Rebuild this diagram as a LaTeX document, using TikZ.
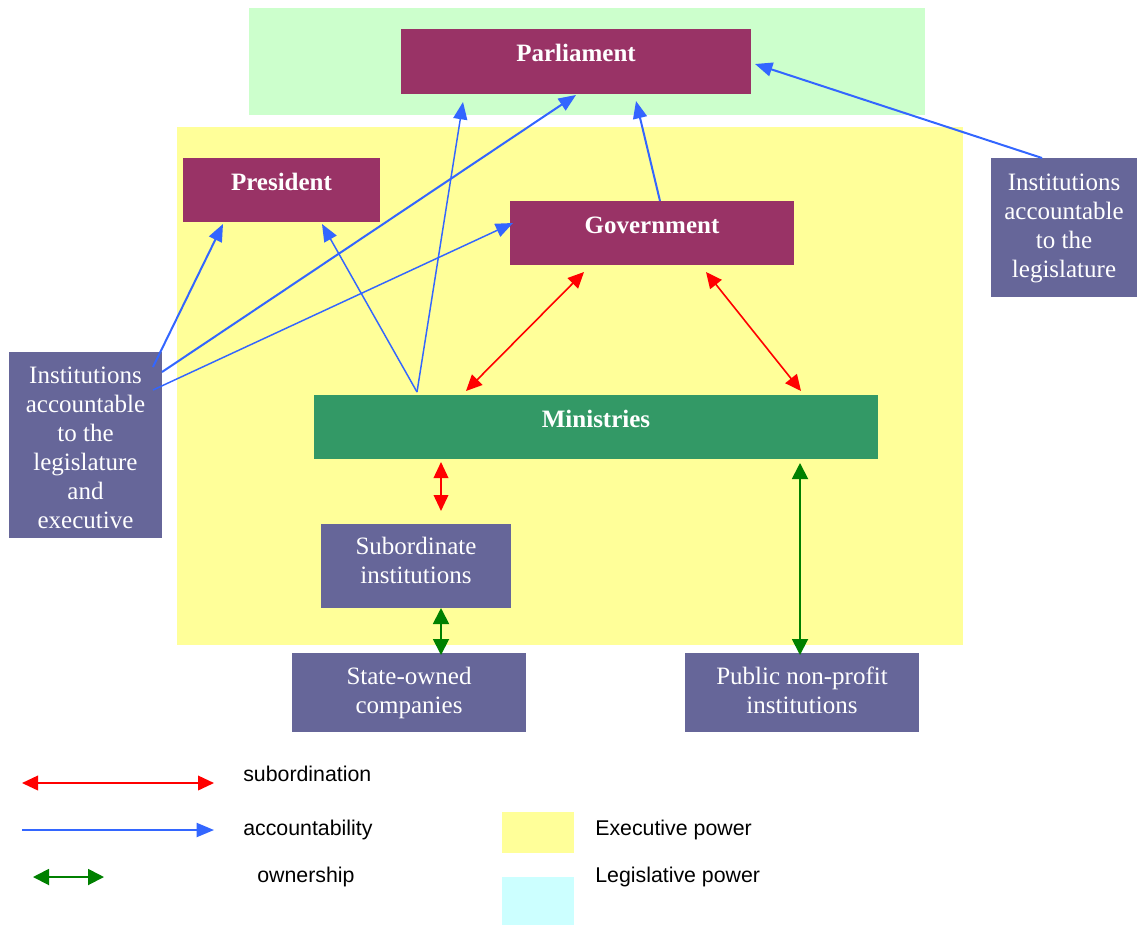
\documentclass[tikz,border=0pt]{standalone}
\usepackage{fontspec}
\setmainfont{Liberation Serif}
\newfontfamily\legfont{Liberation Sans}
\usetikzlibrary{arrows.meta,calc}
\definecolor{maroon}{HTML}{993366}
\definecolor{mingreen}{HTML}{339966}
\definecolor{instpurple}{HTML}{666699}
\definecolor{execyellow}{HTML}{FFFF99}
\definecolor{legisgreen}{HTML}{CCFFCC}
\definecolor{legcyan}{HTML}{CCFFFF}
\definecolor{accblue}{HTML}{3366FF}
\definecolor{owngreen}{HTML}{008000}
\begin{document}
\begin{tikzpicture}[x=0.75pt,y=-0.75pt,
  box/.style={anchor=north west, inner sep=0pt, outer sep=0pt, draw=none},
  btxt/.style={text=white, font=\fontsize{18.75pt}{21.75pt}\selectfont, align=center, anchor=base, inner sep=0pt},
  bbold/.style={btxt, font=\fontsize{18.75pt}{21.75pt}\selectfont\bfseries},
  legtxt/.style={font=\legfont\fontsize{16pt}{19pt}\selectfont, anchor=base west, inner sep=0pt},
  acc/.style={draw=accblue, line width=1.5pt, -{Triangle[length=13pt,width=10.5pt]}},
  accthin/.style={acc, line width=1.1pt},
  subo/.style={draw=red, line width=1.2pt, {Triangle[length=12pt,width=11pt]}-{Triangle[length=12pt,width=11pt]}},
  own/.style={draw=owngreen, line width=1.4pt, {Triangle[length=12pt,width=12pt]}-{Triangle[length=12pt,width=12pt]}}
]
\useasboundingbox (0,0) rectangle (1137,925);
% backgrounds
\node[box, fill=legisgreen, minimum width=507pt, minimum height=80.25pt] (legbg) at (249,8) {};
\node[box, fill=execyellow, minimum width=589.5pt, minimum height=388.5pt] (execbg) at (177,127) {};
% boxes
\node[box, fill=maroon, minimum width=262.5pt, minimum height=48.75pt] (parl) at (401,29) {};
\node[bbold] (parlt) at (576,61) {Parliament};
\node[box, fill=maroon, minimum width=147.75pt, minimum height=48pt] (pres) at (183,158) {};
\node[bbold] (prest) at (281.5,190) {President};
\node[box, fill=maroon, minimum width=213pt, minimum height=48pt] (gov) at (510,201) {};
\node[bbold] (govt) at (652,233) {Government};
\node[box, fill=mingreen, minimum width=423pt, minimum height=48pt] (min) at (314,395) {};
\node[bbold] (mint) at (596,427) {Ministries};
\node[box, fill=instpurple, minimum width=114.75pt, minimum height=139.5pt] (linst) at (9,352) {};
\node[btxt] (linstt) at (85.5,528) {Institutions\\accountable\\to the\\legislature\\and\\executive};
\node[box, fill=instpurple, minimum width=109.5pt, minimum height=104.25pt] (rinst) at (991,158) {};
\node[btxt] (rinstt) at (1064,277) {Institutions\\accountable\\to the\\legislature};
\node[box, fill=instpurple, minimum width=142.5pt, minimum height=63pt] (subi) at (321,524) {};
\node[btxt] (subit) at (416,583) {Subordinate\\institutions};
\node[box, fill=instpurple, minimum width=175.5pt, minimum height=59.25pt] (soc) at (292,653) {};
\node[btxt] (soct) at (409,713) {State-owned\\companies};
\node[box, fill=instpurple, minimum width=175.5pt, minimum height=59.25pt] (pub) at (685,653) {};
\node[btxt] (pubt) at (802,713) {Public non-profit\\institutions};
% accountability arrows
\draw[acc] ($(linst.north east)+(-9,15)$) -- ($(pres.south west)+(40,2)$);
\draw[acc] ($(linst.north east)+(0,20)$) -- ($(parl.south west)+(175,1)$);
\draw[accthin] ($(linst.north east)+(-9,38)$) -- ($(gov.north west)+(3,22)$);
\draw[accthin] ($(min.north west)+(103,-3)$) -- ($(pres.south west)+(139,2)$);
\draw[accthin] ($(min.north west)+(103,-3)$) -- ($(parl.south west)+(62,8)$);
\draw[acc] ($(gov.north west)+(150,0)$) -- ($(parl.south west)+(235,7)$);
\draw[acc] ($(rinst.north west)+(51,0)$) -- ($(parl.north east)+(4,35)$);
% subordination arrows
\draw[subo] ($(min.north west)+(152,-4)$) -- ($(gov.south west)+(74,7)$);
\draw[subo] ($(gov.south west)+(196,7)$) -- ($(min.north west)+(487,-4)$);
\draw[subo] ($(min.south west)+(127,3)$) -- ($(subi.north west)+(120,-13)$);
% ownership arrows
\draw[own] ($(subi.south west)+(120,0)$) -- ($(soc.north west)+(149,2)$);
\draw[own] ($(min.south west)+(486,4)$) -- ($(pub.north west)+(115,2)$);
% legend
\coordinate (lr1) at (22,783); \coordinate (lr2) at (214,783);
\coordinate (lb1) at (22,830); \coordinate (lb2) at (214,830);
\coordinate (lg1) at (33,877); \coordinate (lg2) at (104,877);
\draw[subo] (lr1) -- (lr2);
\draw[acc] (lb1) -- (lb2);
\draw[own] (lg1) -- (lg2);
\node[legtxt] (l1) at (243,781) {subordination};
\node[legtxt] (l2) at (243,835) {accountability};
\node[legtxt] (l3) at (257,882) {ownership};
\node[box, fill=execyellow, minimum width=54pt, minimum height=30.75pt] (ly) at (502,812) {};
\node[box, fill=legcyan, minimum width=54pt, minimum height=36pt] (lc) at (502,877) {};
\node[legtxt] (l4) at (595,835) {Executive power};
\node[legtxt] (l5) at (595,882) {Legislative power};
\end{tikzpicture}
\end{document}
